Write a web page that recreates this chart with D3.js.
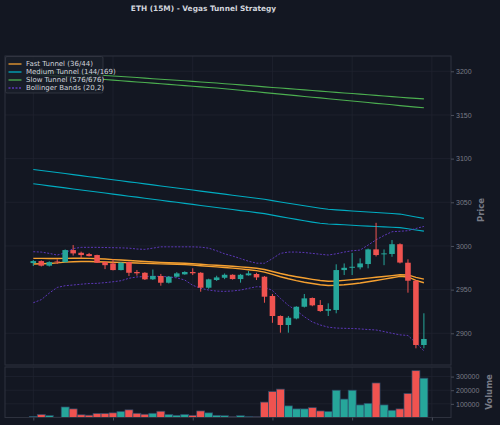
<!DOCTYPE html>
<meta charset="utf-8">
<style>
body { margin: 0; background: #131722; }
svg { display: block; font-family: "DejaVu Sans", sans-serif; }
.tick text { fill: #787b86; font-size: 7px; }
</style>
<body>
<div id="chart"></div>
</body>
<script src="https://cdn.jsdelivr.net/npm/d3@7"></script>
<script>

// candles, 15 minute bars, index 0..49
var opens  = [2980.4, 2982.7, 2977.4, 2982.2, 2981.5, 2995.3, 2992.2, 2990.7, 2989.6, 2981.6,
              2980.0, 2972.4, 2981.6, 2970.2, 2969.3, 2961.8, 2965.6, 2957.9, 2964.8, 2967.5,
              2970.2, 2969.3, 2952.2, 2961.0, 2963.6, 2967.0, 2962.1, 2966.4, 2967.9, 2964.8,
              2942.7, 2919.8, 2909.5, 2917.0, 2930.4, 2940.4, 2932.4, 2925.8, 2926.7, 2972.4,
              2975.0, 2975.5, 2979.3, 2996.1, 2990.4, 2990.8, 3002.0, 2980.8, 2960.2, 2886.6];
var highs  = [2983.9, 2983.5, 2982.5, 2984.7, 2996.0, 3001.0, 2993.5, 2992.0, 2990.0, 2982.0,
              2984.7, 2981.5, 2982.0, 2972.5, 2970.0, 2973.0, 2968.0, 2965.5, 2970.0, 2971.0,
              2974.4, 2970.0, 2962.5, 2965.9, 2968.5, 2967.5, 2968.0, 2971.3, 2969.3, 2965.5,
              2945.0, 2920.5, 2919.8, 2931.0, 2945.0, 2941.0, 2938.0, 2934.3, 2979.0, 2980.0,
              2992.0, 2985.8, 2997.0, 3026.5, 2996.0, 3006.8, 3003.0, 2984.7, 2961.0, 2922.9];
var lows   = [2977.0, 2976.5, 2976.5, 2979.3, 2981.0, 2989.0, 2986.0, 2988.0, 2980.5, 2973.5,
              2972.0, 2972.0, 2965.6, 2966.0, 2961.0, 2961.0, 2954.5, 2957.0, 2964.0, 2967.0,
              2966.7, 2947.6, 2951.0, 2960.0, 2962.0, 2961.5, 2958.0, 2966.0, 2961.0, 2935.0,
              2912.0, 2900.7, 2900.7, 2916.0, 2929.5, 2931.0, 2924.5, 2919.8, 2922.9, 2966.7,
              2966.7, 2973.2, 2974.4, 2988.0, 2978.0, 2987.6, 2980.0, 2946.5, 2882.8, 2882.8];
var closes = [2982.7, 2977.4, 2981.5, 2981.3, 2995.3, 2991.5, 2989.6, 2988.4, 2980.8, 2978.0,
              2972.4, 2980.8, 2969.3, 2968.7, 2961.8, 2965.6, 2957.9, 2964.8, 2968.6, 2970.2,
              2968.7, 2952.2, 2961.8, 2964.0, 2967.0, 2962.1, 2967.0, 2968.6, 2964.0, 2941.9,
              2919.8, 2909.5, 2917.8, 2930.4, 2940.0, 2932.0, 2925.5, 2927.7, 2972.4, 2975.0,
              2976.2, 2980.0, 2996.1, 2989.6, 2991.5, 3002.0, 2981.0, 2960.2, 2886.6, 2893.5];
var volumes = [8000, 22000, 14000, 2000, 77000, 63000, 20000, 17000, 30000, 30000,
               34000, 44000, 56000, 31000, 24000, 31000, 46000, 22000, 16000, 22000,
               16000, 48000, 34000, 16000, 13000, 5000, 13000, 6000, 5000, 113000,
               190000, 208000, 85000, 63000, 63000, 72000, 48000, 44000, 200000, 135000,
               200000, 92000, 104000, 253000, 92000, 53000, 63000, 176000, 343000, 288000];

// Fast tunnel EMA 36 / 44
var fastA = [2985.8, 2985.8, 2985.7, 2985.6, 2985.8, 2986.0, 2986.0, 2985.8, 2985.4, 2985.0,
             2984.4, 2984.0, 2983.4, 2982.8, 2982.2, 2981.7, 2981.2, 2980.8, 2980.5, 2980.2,
             2979.8, 2979.0, 2978.4, 2977.9, 2977.4, 2976.8, 2976.1, 2975.3, 2974.5, 2973.0,
             2970.8, 2968.5, 2966.5, 2964.8, 2963.3, 2961.8, 2960.5, 2959.6, 2959.9, 2960.6,
             2961.4, 2962.2, 2963.2, 2964.2, 2965.0, 2966.0, 2967.0, 2966.8, 2964.0, 2962.0];
var fastB = [2979.3, 2979.6, 2980.0, 2980.6, 2981.5, 2982.0, 2982.2, 2982.2, 2982.0, 2981.7,
             2981.4, 2981.2, 2980.8, 2980.5, 2980.1, 2979.8, 2979.5, 2979.3, 2979.0, 2978.6,
             2978.2, 2977.3, 2976.6, 2976.0, 2975.3, 2974.6, 2973.8, 2972.8, 2971.8, 2970.0,
             2967.5, 2964.8, 2962.4, 2960.3, 2958.5, 2957.0, 2955.6, 2954.7, 2955.0, 2955.6,
             2956.5, 2957.6, 2959.0, 2960.5, 2962.0, 2963.6, 2965.2, 2964.5, 2960.6, 2957.9];
// Medium tunnel EMA 144 / 169
var medA = [3087.6, 3086.4, 3085.2, 3084.1, 3082.9, 3081.7, 3080.5, 3079.3, 3078.2, 3077.0,
            3075.8, 3074.6, 3073.4, 3072.3, 3071.1, 3069.9, 3068.7, 3067.5, 3066.4, 3065.2,
            3064.0, 3062.8, 3061.6, 3060.5, 3059.3, 3058.1, 3056.9, 3055.8, 3054.6, 3053.4,
            3051.9, 3050.4, 3048.9, 3047.5, 3046.0, 3044.6, 3043.2, 3042.0, 3041.3, 3040.7,
            3040.1, 3039.5, 3038.9, 3038.3, 3037.7, 3037.1, 3036.5, 3034.9, 3033.2, 3031.6];
var medB = [3071.2, 3070.0, 3068.8, 3067.7, 3066.5, 3065.3, 3064.1, 3062.9, 3061.8, 3060.6,
            3059.4, 3058.2, 3057.0, 3055.9, 3054.7, 3053.5, 3052.3, 3051.1, 3050.0, 3048.8,
            3047.6, 3046.4, 3045.2, 3044.1, 3042.9, 3041.7, 3040.5, 3039.4, 3038.2, 3037.0,
            3035.3, 3033.6, 3032.0, 3030.4, 3028.8, 3027.3, 3026.0, 3025.2, 3024.7, 3024.2,
            3023.7, 3023.2, 3022.7, 3022.2, 3021.8, 3021.4, 3021.0, 3019.7, 3018.3, 3017.0];
// Slow tunnel EMA 576 / 676
var slowA = [3200.8, 3200.2, 3199.6, 3199.0, 3198.3, 3197.7, 3197.1, 3196.5, 3195.8, 3195.2,
             3194.6, 3194.0, 3193.4, 3192.8, 3192.2, 3191.5, 3190.9, 3190.3, 3189.7, 3189.1,
             3188.5, 3187.8, 3187.2, 3186.5, 3185.8, 3185.1, 3184.4, 3183.7, 3183.0, 3182.2,
             3181.5, 3180.8, 3180.1, 3179.4, 3178.7, 3178.0, 3177.3, 3176.6, 3175.9, 3175.2,
             3174.5, 3173.8, 3173.1, 3172.4, 3171.7, 3171.0, 3170.3, 3169.6, 3169.0, 3168.4];
var slowB = [3196.8, 3196.1, 3195.4, 3194.7, 3194.0, 3193.3, 3192.6, 3191.9, 3191.2, 3190.6,
             3189.9, 3189.2, 3188.5, 3187.8, 3187.1, 3186.4, 3185.7, 3185.0, 3184.3, 3183.6,
             3182.9, 3182.2, 3181.5, 3180.8, 3180.0, 3179.1, 3178.2, 3177.3, 3176.5, 3175.6,
             3174.7, 3173.8, 3173.0, 3172.1, 3171.2, 3170.3, 3169.5, 3168.6, 3167.7, 3166.8,
             3166.0, 3165.1, 3164.2, 3163.3, 3162.5, 3161.6, 3160.7, 3159.8, 3159.0, 3158.2];
// Bollinger (20,2)
var bbUpper = [2993.4, 2993.0, 2991.5, 2989.6, 2992.0, 2997.0, 2998.4, 2998.4, 2998.4, 2998.2,
               2998.0, 2997.8, 2997.5, 2996.5, 2996.1, 2997.5, 2999.0, 2999.0, 2999.0, 2999.0,
               2999.0, 2998.6, 2997.5, 2994.5, 2991.0, 2988.5, 2985.5, 2982.5, 2980.3, 2980.2,
               2985.5, 2991.5, 2993.0, 2993.0, 2992.5, 2991.5, 2990.5, 2989.6, 2991.0, 2993.0,
               2994.5, 2995.3, 3001.0, 3007.0, 3012.0, 3016.3, 3016.8, 3017.5, 3020.0, 3022.4];
var bbLower = [2935.0, 2938.5, 2946.0, 2952.5, 2954.5, 2955.3, 2956.2, 2957.0, 2957.2, 2958.0,
               2959.0, 2960.2, 2963.0, 2964.5, 2965.0, 2965.3, 2965.2, 2964.5, 2963.5, 2961.0,
               2955.0, 2951.5, 2949.5, 2948.3, 2948.0, 2948.5, 2949.5, 2951.5, 2953.3, 2953.0,
               2949.0, 2940.0, 2932.0, 2926.0, 2919.0, 2913.0, 2909.5, 2907.0, 2906.0, 2905.7,
               2905.5, 2905.0, 2904.3, 2903.8, 2902.0, 2900.0, 2898.2, 2897.5, 2889.0, 2880.0];

var priceTicks = [2900, 2950, 3000, 3050, 3100, 3150, 3200];
var volumeTicks = [100000, 200000, 300000];
var timeTicks = [0, 10, 20, 30, 40, 50];

var upColor = "#26a69a", downColor = "#ef5350";
var bbColor = "#5c37b8";
var gridColor = "#1f2330", spineColor = "#2e323e";

var W = 500, H = 425;
var left = 5, right = 451,
    mainTop = 56, mainBottom = 365,
    volTop = 367, volBottom = 417.5;

var svg = d3.select("#chart").append("svg")
    .attr("width", W)
    .attr("height", H);

svg.append("rect").attr("width", W).attr("height", H).attr("fill", "#131722");

var x = d3.scaleLinear().domain([-3.55, 52.4]).range([left, right]);
var y = d3.scaleLinear().domain([2863.7, 3217.5]).range([mainBottom, mainTop]);
var yv = d3.scaleLinear().domain([0, 370000]).range([volBottom, volTop]);
var step = x(1) - x(0);

var candles = d3.range(opens.length).map(function(i) {
  return {i: i, o: opens[i], h: highs[i], l: lows[i], c: closes[i], v: volumes[i]};
});

// grids
var grid = svg.append("g").attr("stroke", gridColor).attr("stroke-width", 0.8);
grid.selectAll(".gy").data(priceTicks).enter().append("line")
    .attr("x1", left).attr("x2", right)
    .attr("y1", function(d) { return y(d); }).attr("y2", function(d) { return y(d); });
grid.selectAll(".gx").data(timeTicks).enter().append("line")
    .attr("x1", function(d) { return x(d); }).attr("x2", function(d) { return x(d); })
    .attr("y1", mainTop).attr("y2", mainBottom);
grid.selectAll(".gv").data(volumeTicks).enter().append("line")
    .attr("x1", left).attr("x2", right)
    .attr("y1", function(d) { return yv(d); }).attr("y2", function(d) { return yv(d); });
grid.selectAll(".gvx").data(timeTicks).enter().append("line")
    .attr("x1", function(d) { return x(d); }).attr("x2", function(d) { return x(d); })
    .attr("y1", volTop).attr("y2", volBottom);

// tunnel lines
var line = d3.line()
    .x(function(d, i) { return x(i); })
    .y(function(d) { return y(d); });

var series = [
  {data: slowA, color: "#4caf50", w: 1.1},
  {data: slowB, color: "#4caf50", w: 1.1},
  {data: medA, color: "#00acc1", w: 1.1},
  {data: medB, color: "#00acc1", w: 1.1},
  {data: fastA, color: "#f5a030", w: 1.4},
  {data: fastB, color: "#f5a030", w: 1.4}
];
svg.append("g").selectAll("path").data(series).enter().append("path")
    .attr("fill", "none")
    .attr("stroke", function(d) { return d.color; })
    .attr("stroke-width", function(d) { return d.w; })
    .attr("d", function(d) { return line(d.data); });

svg.append("g").selectAll("path").data([bbUpper, bbLower]).enter().append("path")
    .attr("fill", "none")
    .attr("stroke", bbColor)
    .attr("stroke-width", 1)
    .attr("stroke-dasharray", "2,1.5")
    .attr("d", function(d) { return line(d); });

// candles
var bodyW = step * 0.7;
var cg = svg.append("g").selectAll("g").data(candles).enter().append("g");
cg.append("line")
    .attr("x1", function(d) { return x(d.i); }).attr("x2", function(d) { return x(d.i); })
    .attr("y1", function(d) { return y(d.h); }).attr("y2", function(d) { return y(d.l); })
    .attr("stroke", function(d) { return d.c >= d.o ? upColor : downColor; })
    .attr("stroke-width", 1);
cg.append("rect")
    .attr("x", function(d) { return x(d.i) - bodyW / 2; })
    .attr("width", bodyW)
    .attr("y", function(d) { return y(Math.max(d.o, d.c)); })
    .attr("height", function(d) { return Math.max(0.8, Math.abs(y(d.o) - y(d.c))); })
    .attr("fill", function(d) { return d.c >= d.o ? upColor : downColor; });

// volume
svg.append("g").selectAll("rect").data(candles).enter().append("rect")
    .attr("x", function(d) { return x(d.i) - step / 2; })
    .attr("width", step)
    .attr("y", function(d) { return yv(d.v); })
    .attr("height", function(d) { return yv(0) - yv(d.v); })
    .attr("fill", function(d) { return d.c >= d.o ? upColor : downColor; })
    .attr("stroke", "#2c4a68")
    .attr("stroke-width", 0.7);

// frames
svg.append("rect").attr("x", left).attr("y", mainTop)
    .attr("width", right - left).attr("height", mainBottom - mainTop)
    .attr("fill", "none").attr("stroke", spineColor);
svg.append("rect").attr("x", left).attr("y", volTop)
    .attr("width", right - left).attr("height", volBottom - volTop)
    .attr("fill", "none").attr("stroke", spineColor);

// axes
var yAxis = d3.axisRight(y).tickValues(priceTicks).tickSize(3).tickPadding(2).tickFormat(d3.format("d"));
svg.append("g").attr("transform", "translate(" + right + ",0)").call(yAxis)
    .call(function(g) { g.select(".domain").remove(); g.selectAll("line").attr("stroke", "#4a4e5a"); });

var vAxis = d3.axisRight(yv).tickValues(volumeTicks).tickSize(3).tickPadding(2).tickFormat(d3.format("d"));
svg.append("g").attr("transform", "translate(" + right + ",0)").call(vAxis)
    .call(function(g) { g.select(".domain").remove(); g.selectAll("line").attr("stroke", "#4a4e5a"); });

var xAxis = d3.axisBottom(x).tickValues(timeTicks).tickSize(3).tickFormat("");
svg.append("g").attr("transform", "translate(0," + volBottom + ")").call(xAxis)
    .call(function(g) { g.select(".domain").remove(); g.selectAll("line").attr("stroke", "#4a4e5a"); });

// axis titles
svg.append("text")
    .attr("transform", "translate(484,210) rotate(-90)")
    .attr("text-anchor", "middle")
    .attr("fill", "#787b86")
    .style("font-size", "8.5px").style("font-weight", "bold")
    .text("Price");
svg.append("text")
    .attr("transform", "translate(492,392) rotate(-90)")
    .attr("text-anchor", "middle")
    .attr("fill", "#787b86")
    .style("font-size", "8.5px").style("font-weight", "bold")
    .text("Volume");

// title
svg.append("text")
    .attr("x", 203.5).attr("y", 11)
    .attr("text-anchor", "middle")
    .attr("fill", "#d1d4dc")
    .style("font-size", "7.4px").style("font-weight", "bold")
    .text("ETH (15M) - Vegas Tunnel Strategy");

// legend
var legendItems = [
  {label: "Fast Tunnel (36/44)", color: "#f5a030", dash: null},
  {label: "Medium Tunnel (144/169)", color: "#00acc1", dash: null},
  {label: "Slow Tunnel (576/676)", color: "#4caf50", dash: null},
  {label: "Bollinger Bands (20,2)", color: bbColor, dash: "2,1.5"}
];
var legend = svg.append("g").attr("transform", "translate(5.5,56.5)");
legend.append("rect")
    .attr("width", 97.5).attr("height", 36.5).attr("rx", 1.5)
    .attr("fill", "#1a1e29").attr("fill-opacity", 0.85)
    .attr("stroke", "#363a45").attr("stroke-width", 0.8);
var li = legend.selectAll(".li").data(legendItems).enter().append("g")
    .attr("transform", function(d, i) { return "translate(0," + (7.5 + i * 8) + ")"; });
li.append("line")
    .attr("x1", 3).attr("x2", 16)
    .attr("stroke", function(d) { return d.color; })
    .attr("stroke-width", 1.3)
    .attr("stroke-dasharray", function(d) { return d.dash; });
li.append("text")
    .attr("x", 20.5).attr("dy", "0.35em")
    .attr("fill", "#d1d4dc")
    .style("font-size", "7px")
    .text(function(d) { return d.label; });

</script>
